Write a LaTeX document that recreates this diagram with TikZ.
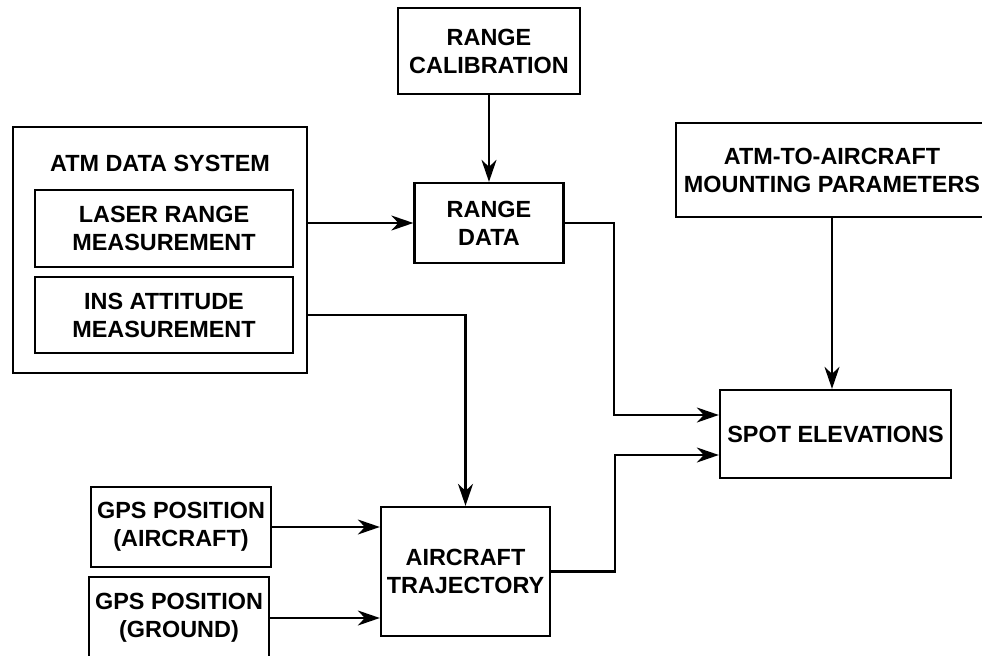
\documentclass[tikz,border=0pt]{standalone}
\usepackage{fontspec}
\setmainfont{Liberation Sans}
\usetikzlibrary{arrows.meta,calc}
\begin{document}
\begin{tikzpicture}[x=1bp,y=-1bp,
  box/.style={draw,line width=2.3bp,inner sep=0pt,align=center,
    font=\fontsize{23.5}{28}\selectfont\bfseries},
  lbl/.style={inner sep=0pt,align=center,font=\fontsize{23.5}{28}\selectfont\bfseries},
  conn/.style={line width=2.3bp,-{Stealth[length=22bp,width=15bp,inset=7bp]}}]
\useasboundingbox (0,0) rectangle (982,656);
% nodes
\node[box,minimum width=182bp,minimum height=86bp] (calib) at (489,51) {RANGE\\CALIBRATION};
\node[box,minimum width=149bp,minimum height=80bp] (rdata) at (489,223) {RANGE\\DATA};
\node[box,minimum width=294bp,minimum height=246bp] (atm) at (160,250) {};
\node[lbl] (atmtitle) at (160,163) {ATM DATA SYSTEM};
\node[box,minimum width=258bp,minimum height=77bp] (laser) at (164,228.5) {LASER RANGE\\MEASUREMENT};
\node[box,minimum width=258bp,minimum height=76bp] (ins) at (164,315) {INS ATTITUDE\\MEASUREMENT};
\node[box,minimum width=312bp,minimum height=94bp] (mount) at (832,170) {ATM-TO-AIRCRAFT\\MOUNTING PARAMETERS};
\node[box,minimum width=231bp,minimum height=88bp] (spot) at (835.5,434) {SPOT ELEVATIONS};
\node[box,minimum width=180bp,minimum height=80bp] (gpsa) at (181,527) {GPS POSITION\\(AIRCRAFT)};
\node[box,minimum width=180bp,minimum height=82bp] (gpsg) at (179,618) {GPS POSITION\\(GROUND)};
\node[box,minimum width=169bp,minimum height=129bp] (traj) at (465.5,571.5) {AIRCRAFT\\TRAJECTORY};
% connectors
\draw[conn] (calib.south) -- (rdata.north);
\draw[conn] (atm.east |- rdata.west) -- (rdata.west);
\draw[conn] (atm.east |- ins.east) -| (traj.north);
\draw[conn] (rdata.east) -- ++(49,0) |- ([yshift=19bp]spot.west);
\draw[conn] (traj.east) -- ++(64,0) |- ([yshift=-21bp]spot.west);
\draw[conn] (mount.south) -- (mount.south |- spot.north);
\draw[conn] (gpsa.east) -- (gpsa.east -| traj.west);
\draw[conn] (gpsg.east) -- (gpsg.east -| traj.west);
\end{tikzpicture}
\end{document}
